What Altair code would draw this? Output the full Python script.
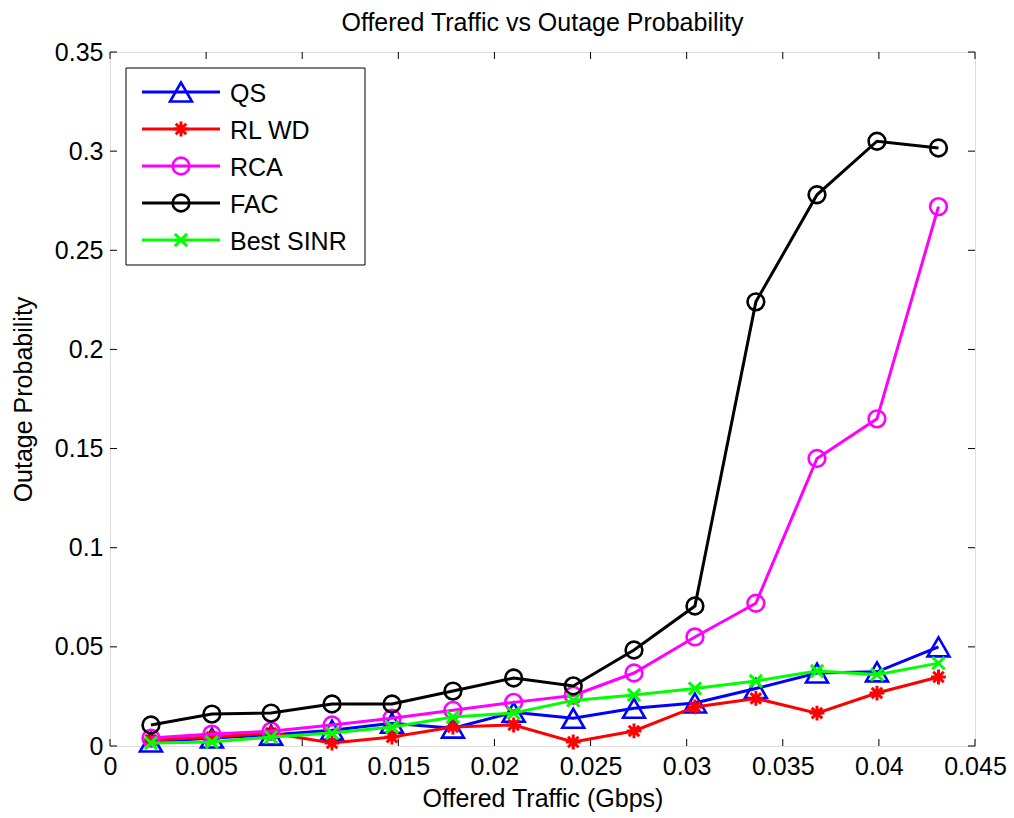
import altair as alt
import pandas as pd

# Offered traffic (Gbps) at each simulation point
traffic = [0.00213, 0.0053, 0.00838, 0.01155, 0.01467, 0.01784, 0.0210,
           0.0241, 0.02726, 0.03043, 0.0336, 0.03678, 0.0399, 0.0431]

# Outage probability per scheme
qs = [0.002, 0.004, 0.0055, 0.008, 0.0115, 0.009, 0.017,
      0.014, 0.019, 0.0217, 0.029, 0.0368, 0.0374, 0.050]
rl_wd = [0.003, 0.0045, 0.0065, 0.0015, 0.0045, 0.0096, 0.0106,
         0.002, 0.0076, 0.0197, 0.024, 0.0166, 0.0267, 0.0348]
rca = [0.004, 0.006, 0.0075, 0.0106, 0.014, 0.018, 0.022,
       0.0255, 0.0368, 0.055, 0.072, 0.145, 0.165, 0.272]
fac = [0.0106, 0.0161, 0.0166, 0.0212, 0.0212, 0.0277, 0.0343,
       0.0303, 0.0484, 0.0706, 0.224, 0.278, 0.305, 0.3016]
best_sinr = [0.0015, 0.002, 0.0045, 0.0065, 0.0096, 0.0146, 0.0166,
             0.023, 0.0257, 0.029, 0.0328, 0.0378, 0.036, 0.0418]

series_names = ["QS", "RL WD", "RCA", "FAC", "Best SINR"]
series_values = [qs, rl_wd, rca, fac, best_sinr]
series_colors = ["#0000FF", "#FF0000", "#FF00FF", "#000000", "#00FF00"]

# stroked marker glyphs: eight-spoke asterisk and diagonal cross
ASTERISK = ("M0,-1L0,1M-1,0L1,0M-0.707,-0.707L0.707,0.707"
            "M-0.707,0.707L0.707,-0.707")
XMARK = "M-1,-1L1,1M-1,1L1,-1"
series_shapes = ["triangle-up", ASTERISK, "circle", "circle", XMARK]
series_sizes = [480, 220, 280, 280, 150]
series_strokes = [2.6, 3.0, 2.6, 2.6, 3.0]

x_ticks = [0, 0.005, 0.01, 0.015, 0.02, 0.025, 0.03, 0.035, 0.04, 0.045]
y_ticks = [0, 0.05, 0.1, 0.15, 0.2, 0.25, 0.3, 0.35]

W, H = 865, 694
FONT = "Liberation Sans"
FS = 25

x_scale = alt.Scale(domain=[0, 0.045], nice=False, zero=False)
y_scale = alt.Scale(domain=[0, 0.35], nice=False, zero=False)

x_axis = alt.Axis(values=x_ticks, format="~g", ticks=False, domain=False, grid=False,
                  labelFlush=False, labelOverlap=False,
                  labelFontSize=FS, labelColor="#000", labelPadding=8, labelFont=FONT,
                  title="Offered Traffic (Gbps)", titleFontSize=FS, titleFont=FONT,
                  titleFontWeight="normal", titleColor="#000", titlePadding=7)
y_axis = alt.Axis(values=y_ticks, format="~g", ticks=False, domain=False, grid=False,
                  labelFlush=False, labelOverlap=False,
                  labelFontSize=FS, labelColor="#000", labelPadding=7, labelFont=FONT,
                  title="Outage Probability", titleFontSize=FS, titleFont=FONT,
                  titleFontWeight="normal", titleColor="#000", titlePadding=18)

layers = []

# Axes (labels only) carried by an invisible layer
xt = pd.DataFrame({"x": x_ticks})
yt = pd.DataFrame({"y": y_ticks})
base_axes = alt.Chart(pd.DataFrame({"x": [0], "y": [0]})).mark_point(opacity=0).encode(
    x=alt.X("x:Q", scale=x_scale, axis=x_axis),
    y=alt.Y("y:Q", scale=y_scale, axis=y_axis),
)
layers.append(base_axes)

# Inward tick marks on all four sides
TL = 7
layers.append(alt.Chart(xt).mark_rule(color="#000", strokeWidth=1).encode(
    x=alt.X("x:Q", scale=x_scale), y=alt.value(H), y2=alt.value(H - TL)))
layers.append(alt.Chart(xt).mark_rule(color="#000", strokeWidth=1).encode(
    x=alt.X("x:Q", scale=x_scale), y=alt.value(0), y2=alt.value(TL)))
layers.append(alt.Chart(yt).mark_rule(color="#000", strokeWidth=1).encode(
    y=alt.Y("y:Q", scale=y_scale), x=alt.value(0), x2=alt.value(TL)))
layers.append(alt.Chart(yt).mark_rule(color="#000", strokeWidth=1).encode(
    y=alt.Y("y:Q", scale=y_scale), x=alt.value(W), x2=alt.value(W - TL)))

# Data series: line plus markers, drawn in order
for name, vals, col, shp, sz, sw in zip(series_names, series_values, series_colors,
                                        series_shapes, series_sizes, series_strokes):
    df = pd.DataFrame({"x": traffic, "y": vals, "series": name})
    enc = dict(x=alt.X("x:Q", scale=x_scale), y=alt.Y("y:Q", scale=y_scale))
    layers.append(alt.Chart(df).mark_line(color=col, strokeWidth=3).encode(**enc))
    layers.append(alt.Chart(df).mark_point(shape=shp, size=sz, filled=False,
                                           color=col, strokeWidth=sw, opacity=1).encode(**enc))

# Legend box
layers.append(alt.Chart(pd.DataFrame({"a": [0]})).mark_rect(
    fill="white", stroke="#000", strokeWidth=1).encode(
    x=alt.value(16), x2=alt.value(255), y=alt.value(16), y2=alt.value(213)))

legend_rows = [40, 77, 114, 151, 188]
for name, col, shp, sz, sw, ry in zip(series_names, series_colors, series_shapes,
                                      series_sizes, series_strokes, legend_rows):
    d = pd.DataFrame({"label": [name]})
    layers.append(alt.Chart(d).mark_rule(color=col, strokeWidth=3).encode(
        x=alt.value(32), x2=alt.value(110), y=alt.value(ry)))
    layers.append(alt.Chart(d).mark_point(shape=shp, size=sz, filled=False,
                                          color=col, strokeWidth=sw, opacity=1).encode(
        x=alt.value(71), y=alt.value(ry)))
    layers.append(alt.Chart(d).mark_text(align="left", baseline="middle", fontSize=FS,
                                         font=FONT, color="#000").encode(
        x=alt.value(120), y=alt.value(ry + 2), text="label:N"))

chart = alt.layer(*layers).properties(
    width=W, height=H,
    title=alt.Title("Offered Traffic vs Outage Probability", fontSize=FS, font=FONT,
                    fontWeight="normal", color="#000", offset=4),
    padding={"left": 110, "top": 52, "right": 39, "bottom": 72},
    autosize=alt.AutoSizeParams(type="none"),
).configure_view(stroke="#000", strokeWidth=1).configure(background="white")

chart.save("out.html", embed_options={"renderer": "svg", "actions": False})
